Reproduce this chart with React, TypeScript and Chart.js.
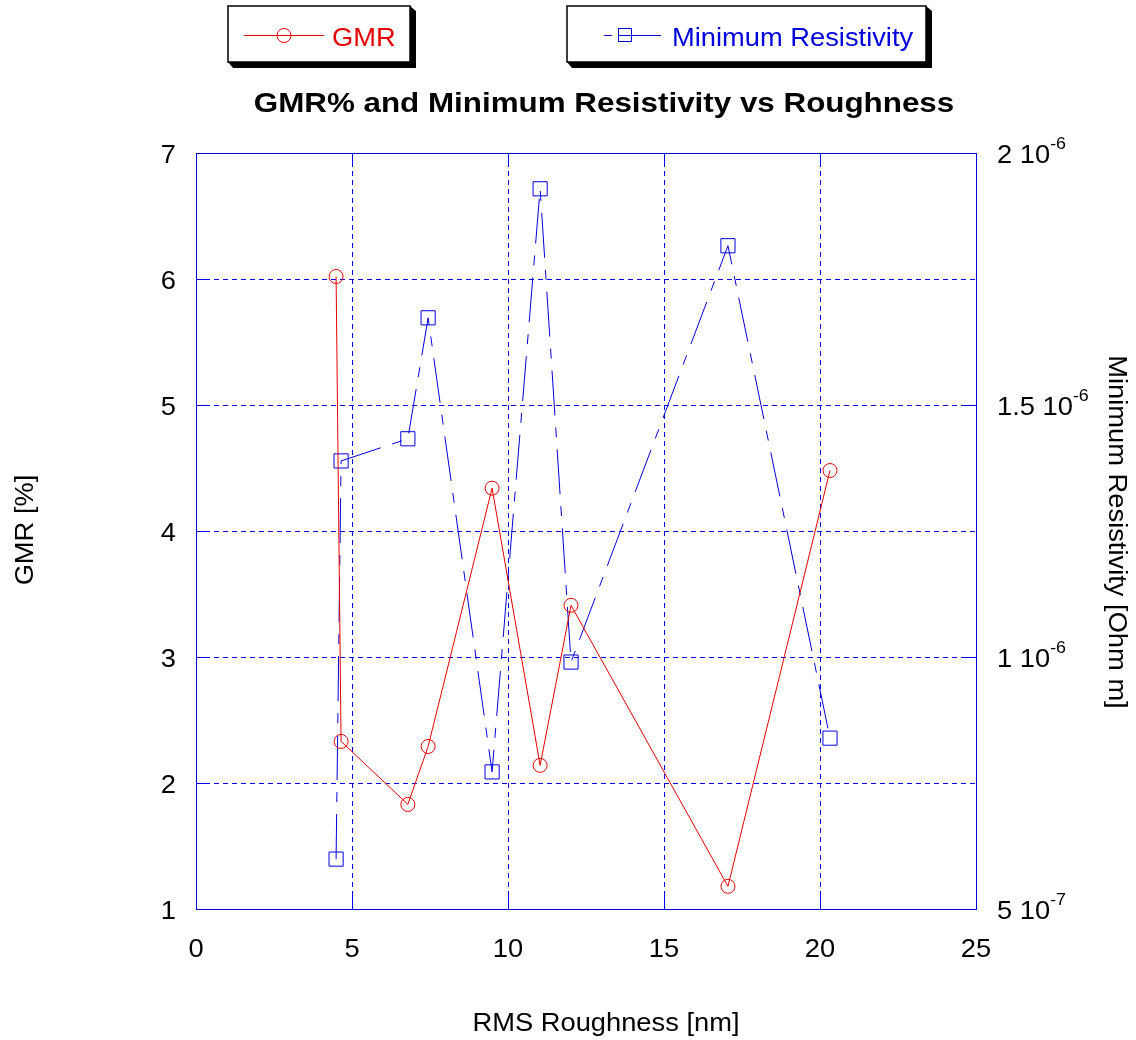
import React, { useEffect, useRef } from "react";
import { Chart, registerables } from "chart.js";

Chart.register(...registerables);

// ---- data ----
const roughness = [4.49, 4.65, 6.79, 7.44, 9.49, 11.03, 12.02, 17.05, 20.32];
const gmr = [6.02, 2.33, 1.83, 2.29, 4.34, 2.14, 3.41, 1.18, 4.48];
const resistivity = [5.99e-7, 1.389e-6, 1.433e-6, 1.673e-6, 7.72e-7, 1.929e-6, 9.9e-7, 1.816e-6, 8.39e-7];

const xTicks = [0, 5, 10, 15, 20, 25];
const yTicks = [1, 2, 3, 4, 5, 6, 7];
const y2Ticks = [5e-7, 1e-6, 1.5e-6, 2e-6];
const y2Mantissa = ["5", "1", "1.5", "2"];
const y2Exponent = ["-7", "-6", "-6", "-6"];

const TITLE = "GMR% and Minimum Resistivity vs Roughness";
const X_TITLE = "RMS Roughness [nm]";
const Y_TITLE = "GMR [%]";
const Y2_TITLE = "Minimum Resistivity [Ohm m]";
const GMR_LABEL = "GMR";
const RES_LABEL = "Minimum Resistivity";

const RED = "rgb(230,0,0)";
const BLUE = "rgb(0,0,220)";
const GRID = "rgb(0,0,235)";
const FONT = "'Liberation Sans', Arial, Helvetica, sans-serif";
const SX = 1.05;

function txt(ctx: CanvasRenderingContext2D, s: string, x: number, y: number, font: string, color: string, align: CanvasTextAlign, sx = SX, rot = 0) {
  ctx.save();
  ctx.translate(x, y);
  if (rot) ctx.rotate(rot);
  ctx.scale(sx, 1);
  ctx.font = font;
  ctx.fillStyle = color;
  ctx.textAlign = align;
  ctx.textBaseline = "alphabetic";
  ctx.fillText(s, 0, 0);
  ctx.restore();
}

const decorPlugin = {
  id: "decor",
  beforeDatasetsDraw(chart: any) {
    const ctx: CanvasRenderingContext2D = chart.ctx;
    const { left, right, top, bottom } = chart.chartArea;
    const xs = chart.scales.x;
    const ys = chart.scales.y;
    const y2s = chart.scales.y2;
    ctx.save();
    ctx.strokeStyle = GRID;
    ctx.lineWidth = 1;
    ctx.setLineDash([5, 4]);
    ctx.beginPath();
    xTicks.forEach((v) => {
      const px = Math.round(xs.getPixelForValue(v)) + 0.5;
      if (px > left + 1 && px < right - 1) {
        ctx.moveTo(px, top);
        ctx.lineTo(px, bottom);
      }
    });
    const hs = new Set<number>();
    yTicks.forEach((v) => hs.add(Math.round(ys.getPixelForValue(v))));
    y2Ticks.forEach((v) => hs.add(Math.round(y2s.getPixelForValue(v))));
    hs.forEach((p) => {
      const py = p + 0.5;
      if (py > top + 1 && py < bottom - 1) {
        ctx.moveTo(left, py);
        ctx.lineTo(right, py);
      }
    });
    ctx.stroke();
    ctx.setLineDash([]);
    // ticks inward
    const TL = 14;
    ctx.beginPath();
    xTicks.forEach((v) => {
      const px = Math.round(xs.getPixelForValue(v)) + 0.5;
      ctx.moveTo(px, bottom);
      ctx.lineTo(px, bottom - TL);
      ctx.moveTo(px, top);
      ctx.lineTo(px, top + TL);
    });
    yTicks.forEach((v) => {
      const py = Math.round(ys.getPixelForValue(v)) + 0.5;
      ctx.moveTo(left, py);
      ctx.lineTo(left + TL, py);
    });
    y2Ticks.forEach((v) => {
      const py = Math.round(y2s.getPixelForValue(v)) + 0.5;
      ctx.moveTo(right, py);
      ctx.lineTo(right - TL, py);
    });
    ctx.stroke();
    // frame
    ctx.strokeStyle = BLUE;
    ctx.strokeRect(Math.round(left) + 0.5, Math.round(top) + 0.5, Math.round(right - left), Math.round(bottom - top));
    ctx.restore();
  },
  afterDraw(chart: any) {
    const ctx: CanvasRenderingContext2D = chart.ctx;
    const xs = chart.scales.x;
    const ys = chart.scales.y;
    const y2s = chart.scales.y2;
    const f26 = `26px ${FONT}`;
    // x tick labels
    xTicks.forEach((v) => {
      txt(ctx, String(v), xs.getPixelForValue(v), 957, f26, "#000", "center");
    });
    // left tick labels
    yTicks.forEach((v) => {
      txt(ctx, String(v), 176, ys.getPixelForValue(v) + 9.5, f26, "#000", "right");
    });
    // right tick labels with superscript
    y2Ticks.forEach((v, i) => {
      const py = y2s.getPixelForValue(v);
      const m = y2Mantissa[i] + " 10";
      ctx.save();
      ctx.font = f26;
      const w = ctx.measureText(m).width * SX;
      ctx.restore();
      txt(ctx, m, 997, py + 10, f26, "#000", "left");
      txt(ctx, y2Exponent[i], 997 + w, py - 4, `17px ${FONT}`, "#000", "left");
    });
    // axis titles
    txt(ctx, X_TITLE, 606, 1031, f26, "#000", "center");
    txt(ctx, Y_TITLE, 33, 530, f26, "#000", "center", SX, -Math.PI / 2);
    txt(ctx, Y2_TITLE, 1109, 532, f26, "#000", "center", SX, Math.PI / 2);
    // title
    txt(ctx, TITLE, 604, 112, `bold 28px ${FONT}`, "#000", "center", 1.12);

    // legend boxes
    const box = (x0: number, x1: number) => {
      const y0 = 6, y1 = 62;
      ctx.save();
      ctx.fillStyle = "#000";
      ctx.beginPath();
      ctx.moveTo(x0, y1);
      ctx.lineTo(x0 + 5, y1 + 6);
      ctx.lineTo(x1 + 6, y1 + 6);
      ctx.lineTo(x1 + 6, y0 + 5);
      ctx.lineTo(x1, y0);
      ctx.lineTo(x1, y1);
      ctx.closePath();
      ctx.fill();
      ctx.fillStyle = "#fff";
      ctx.fillRect(x0, y0, x1 - x0, y1 - y0);
      ctx.strokeStyle = "#000";
      ctx.lineWidth = 1.5;
      ctx.strokeRect(x0, y0, x1 - x0, y1 - y0);
      ctx.restore();
    };
    box(228, 410);
    box(567, 926);
    ctx.save();
    ctx.lineWidth = 1;
    ctx.strokeStyle = RED;
    ctx.beginPath();
    ctx.moveTo(244, 35.5);
    ctx.lineTo(324, 35.5);
    ctx.stroke();
    ctx.beginPath();
    ctx.arc(284, 35.5, 7, 0, Math.PI * 2);
    ctx.stroke();
    ctx.strokeStyle = BLUE;
    ctx.beginPath();
    ctx.moveTo(604, 35.5);
    ctx.lineTo(612, 35.5);
    ctx.moveTo(618, 35.5);
    ctx.lineTo(661, 35.5);
    ctx.stroke();
    ctx.strokeRect(618.5, 28.5, 13, 13);
    ctx.restore();
    txt(ctx, GMR_LABEL, 332, 46, f26, RED, "left");
    txt(ctx, RES_LABEL, 672, 46, f26, BLUE, "left");
  },
};

export default function App() {
  const ref = useRef<HTMLCanvasElement>(null);
  useEffect(() => {
    if (!ref.current) return;
    const chart = new Chart(ref.current, {
      type: "line",
      data: {
        datasets: [
          {
            label: GMR_LABEL,
            data: roughness.map((x, i) => ({ x, y: gmr[i] })),
            yAxisID: "y",
            borderColor: RED,
            borderWidth: 1,
            pointStyle: "circle",
            pointRadius: 7,
            pointBorderColor: RED,
            pointBackgroundColor: "rgba(0,0,0,0)",
            pointBorderWidth: 1,
            fill: false,
            tension: 0,
          },
          {
            label: RES_LABEL,
            data: roughness.map((x, i) => ({ x, y: resistivity[i] })),
            yAxisID: "y2",
            borderColor: BLUE,
            borderWidth: 1,
            borderDash: [45, 12, 10, 12],
            pointStyle: "rect",
            pointRadius: 10,
            pointBorderColor: BLUE,
            pointBackgroundColor: "rgba(0,0,0,0)",
            pointBorderWidth: 1,
            fill: false,
            tension: 0,
          },
        ],
      },
      options: {
        responsive: false,
        animation: false,
        layout: { padding: { left: 0, right: 0, top: 153, bottom: 0 } },
        plugins: { legend: { display: false }, title: { display: false }, tooltip: { enabled: false } },
        scales: {
          x: {
            type: "linear",
            min: 0,
            max: 25,
            ticks: { display: false, stepSize: 5 },
            grid: { display: false },
            border: { display: false },
            afterFit: (s: any) => { s.height = 131; },
          },
          y: {
            type: "linear",
            position: "left",
            min: 1,
            max: 7,
            ticks: { display: false, stepSize: 1 },
            grid: { display: false },
            border: { display: false },
            afterFit: (s: any) => { s.width = 196; },
          },
          y2: {
            type: "linear",
            position: "right",
            min: 5e-7,
            max: 2e-6,
            ticks: { display: false, stepSize: 5e-7 },
            grid: { display: false },
            border: { display: false },
            afterFit: (s: any) => { s.width = 160; },
          },
        },
      },
      plugins: [decorPlugin],
    });
    return () => chart.destroy();
  }, []);
  return (
    <div style={{ position: "absolute", left: 0, top: 0, width: 1136, height: 1040, background: "#fff" }}>
      <canvas ref={ref} width={1136} height={1040} style={{ display: "block" }} />
    </div>
  );
}
